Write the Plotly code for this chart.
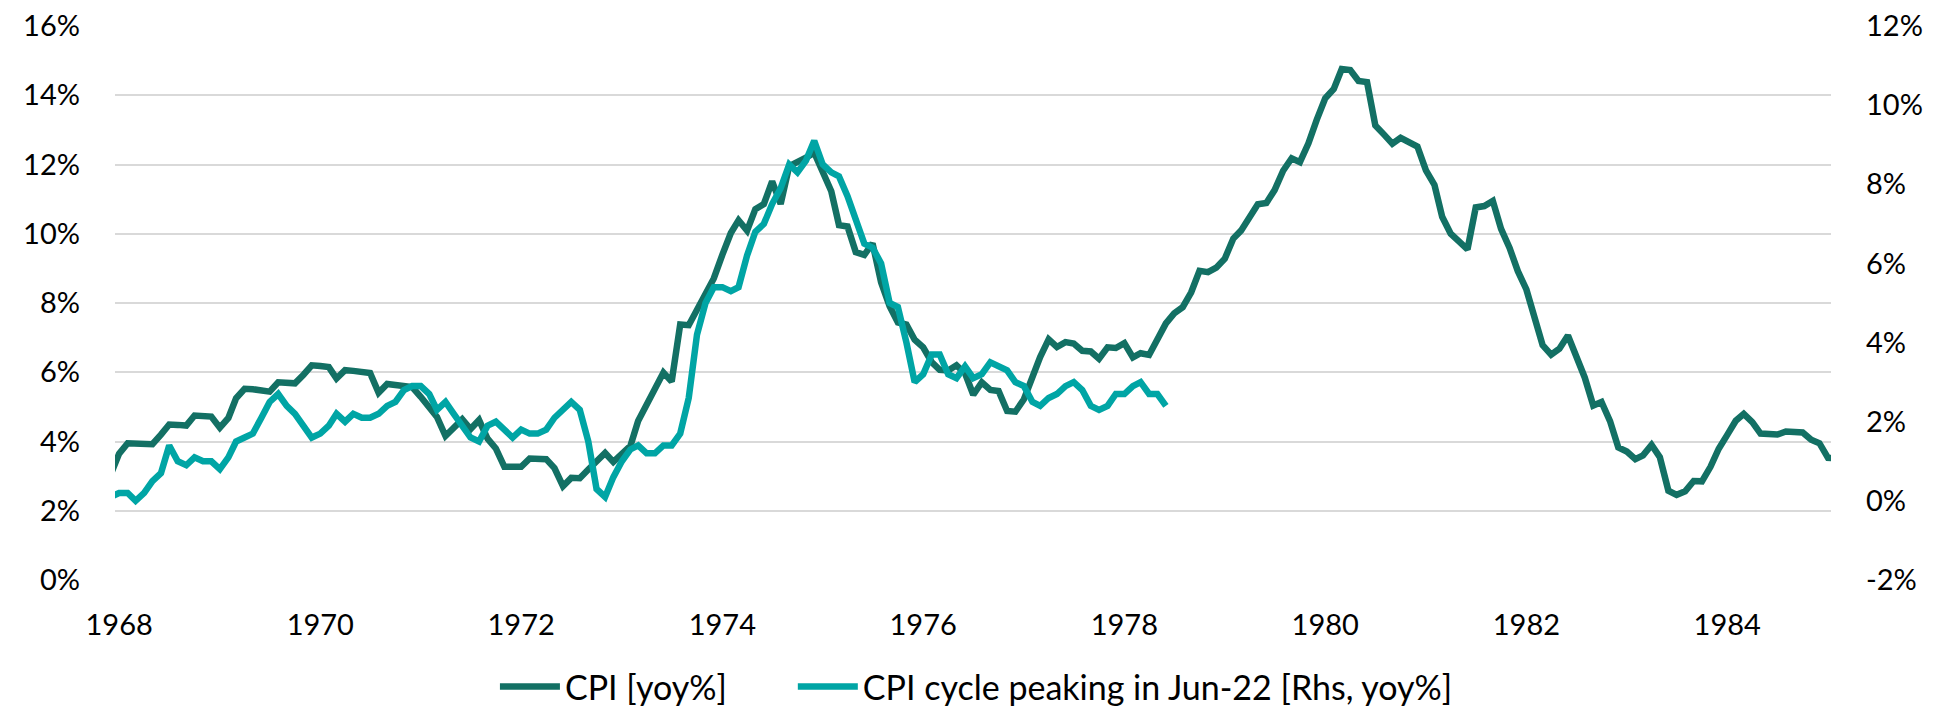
import pandas as pd
import plotly.graph_objects as go

# US CPI yoy %, monthly Dec-1967 .. Feb-1985 (edges are clipped by the axis range)
cpi_start = "1967-12-01"
cpi_values = [
    3.04,
    3.65, 3.95, 3.94, 3.93, 3.92, 4.20, 4.49, 4.48, 4.46, 4.75, 4.74, 4.72,
    4.40, 4.68, 5.25, 5.52, 5.51, 5.48, 5.44, 5.71, 5.70, 5.68, 5.93, 6.20,
    6.18, 6.15, 5.82, 6.06, 6.04, 6.01, 5.98, 5.41, 5.66, 5.63, 5.60, 5.57,
    5.29, 5.00, 4.71, 4.16, 4.40, 4.64, 4.36, 4.62, 4.08, 3.80, 3.27, 3.27,
    3.27, 3.51, 3.50, 3.49, 3.23, 2.71, 2.95, 2.94, 3.19, 3.42, 3.67, 3.41,
    3.65, 3.87, 4.59, 5.06, 5.53, 5.99, 5.73, 7.38, 7.36, 7.80, 8.25, 8.71,
    9.39, 10.02, 10.39, 10.09, 10.71, 10.86, 11.51, 10.86, 11.95, 12.06, 12.20, 12.34,
    11.80, 11.23, 10.25, 10.21, 9.47, 9.39, 9.72, 8.60, 7.91, 7.44, 7.38, 6.94,
    6.72, 6.29, 6.07, 6.05, 6.20, 5.97, 5.35, 5.71, 5.49, 5.46, 4.88, 4.86,
    5.22, 5.91, 6.44, 6.95, 6.73, 6.87, 6.83, 6.62, 6.60, 6.39, 6.72, 6.70,
    6.84, 6.43, 6.55, 6.50, 6.97, 7.41, 7.70, 7.88, 8.31, 8.93, 8.89, 9.02,
    9.28, 9.86, 10.09, 10.49, 10.85, 10.89, 11.26, 11.82, 12.18, 12.07, 12.61, 13.29,
    13.91, 14.18, 14.76, 14.73, 14.41, 14.38, 13.13, 12.87, 12.60, 12.77, 12.65, 12.52,
    11.83, 11.41, 10.49, 10.00, 9.78, 9.55, 10.76, 10.80, 10.95, 10.14, 9.59, 8.92,
    8.39, 7.62, 6.78, 6.51, 6.68, 7.06, 6.44, 5.85, 5.04, 5.14, 4.59, 3.83,
    3.71, 3.49, 3.60, 3.90, 3.55, 2.58, 2.46, 2.56, 2.86, 2.85, 3.27, 3.79,
    4.19, 4.60, 4.80, 4.56, 4.23, 4.22, 4.20, 4.29, 4.27, 4.26, 4.05, 3.95,
    3.53, 3.52,
]

# current cycle (Jun-15 .. Dec-25), shifted so the Jun-22 peak sits on Dec-74
cycle_start = "1967-12-01"
cycle_values = [
    0.1, 0.2, 0.2, 0.0, 0.2, 0.5, 0.7,
    1.4, 1.0, 0.9, 1.1, 1.0, 1.0, 0.8, 1.1, 1.5, 1.6, 1.7, 2.1,
    2.5, 2.7, 2.4, 2.2, 1.9, 1.6, 1.7, 1.9, 2.2, 2.0, 2.2, 2.1,
    2.1, 2.2, 2.4, 2.5, 2.8, 2.9, 2.9, 2.7, 2.3, 2.5, 2.2, 1.9,
    1.6, 1.5, 1.9, 2.0, 1.8, 1.6, 1.8, 1.7, 1.7, 1.8, 2.1, 2.3,
    2.5, 2.3, 1.5, 0.3, 0.1, 0.6, 1.0, 1.3, 1.4, 1.2, 1.2, 1.4,
    1.4, 1.7, 2.6, 4.2, 5.0, 5.4, 5.4, 5.3, 5.4, 6.2, 6.8, 7.0,
    7.5, 7.9, 8.5, 8.3, 8.6, 9.1, 8.5, 8.3, 8.2, 7.7, 7.1, 6.5,
    6.4, 6.0, 5.0, 4.9, 4.0, 3.0, 3.2, 3.7, 3.7, 3.2, 3.1, 3.4,
    3.1, 3.2, 3.5, 3.4, 3.3, 3.0, 2.9, 2.5, 2.4, 2.6, 2.7, 2.9,
    3.0, 2.8, 2.4, 2.3, 2.4, 2.7, 2.7, 2.9, 3.0, 2.7, 2.7, 2.4,
]

tick_years = ["1968", "1970", "1972", "1974", "1976", "1978", "1980", "1982", "1984"]
left_ticks = [0, 2, 4, 6, 8, 10, 12, 14, 16]
right_ticks = [-2, 0, 2, 4, 6, 8, 10, 12]

cpi_dates = pd.date_range(cpi_start, periods=len(cpi_values), freq="MS")
cycle_dates = pd.date_range(cycle_start, periods=len(cycle_values), freq="MS")

GREEN = "#137064"
CYAN = "#00A5A5"
FONT = dict(family="Lato, 'Open Sans', sans-serif", size=29, color="#000000")
GAP = "\u00a0" * 7  # extra room between the two legend entries

fig = go.Figure()

fig.add_trace(
    go.Scatter(
        x=cpi_dates,
        y=cpi_values,
        name="CPI [yoy%]" + GAP,
        mode="lines",
        line=dict(color=GREEN, width=6.5),
    )
)

fig.add_trace(
    go.Scatter(
        x=cycle_dates,
        y=cycle_values,
        name="CPI cycle peaking in Jun-22 [Rhs, yoy%]",
        mode="lines",
        line=dict(color=CYAN, width=6.5),
        yaxis="y2",
    )
)

fig.update_layout(
    width=1934,
    height=710,
    margin=dict(l=115, r=103, t=26, b=130, autoexpand=False),
    paper_bgcolor="white",
    plot_bgcolor="white",
    font=FONT,
    showlegend=True,
    legend=dict(
        orientation="h",
        x=0.502,
        xanchor="center",
        y=-0.193,
        yanchor="middle",
        font=dict(FONT, size=34),
        itemwidth=60,
        traceorder="normal",
    ),
    xaxis=dict(
        type="date",
        range=["1967-12-17", "1985-01-12"],
        tickvals=[pd.Timestamp(f"{y}-01-01") for y in tick_years],
        ticktext=tick_years,
        showgrid=False,
        zeroline=False,
        showline=False,
        ticks="",
        ticklabelstandoff=25,
        automargin=False,
    ),
    yaxis=dict(
        range=[0, 16],
        tickvals=left_ticks,
        ticktext=[f"{v}%" for v in left_ticks],
        showgrid=True,
        gridcolor="#D9D9D9",
        gridwidth=2,
        zeroline=False,
        showline=False,
        ticks="",
        ticklabelstandoff=34,
        automargin=False,
    ),
    yaxis2=dict(
        range=[-2, 12],
        tickvals=right_ticks,
        ticktext=[f"{v}%" for v in right_ticks],
        overlaying="y",
        side="right",
        showgrid=False,
        zeroline=False,
        showline=False,
        ticks="",
        ticklabelstandoff=34,
        automargin=False,
    ),
)

# drop the browser's default body margin so the figure fills the window exactly
fig.write_html(
    "out.html",
    config={"displayModeBar": False},
    post_script="document.body.style.margin='0px';",
)
